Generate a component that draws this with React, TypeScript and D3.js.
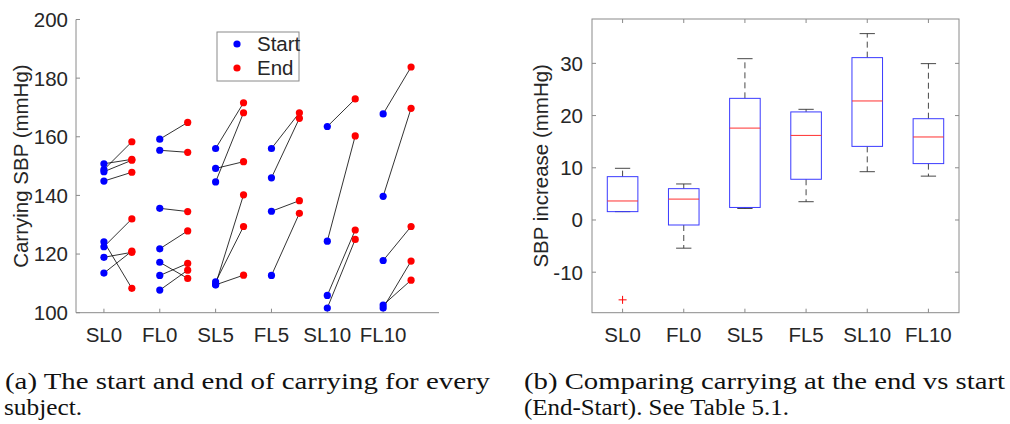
import React from "react";
import * as d3 from "d3";

const categories = ["SL0", "FL0", "SL5", "FL5", "SL10", "FL10"];

const startValues: number[][] = [
  [150.8, 148.8, 148.1, 144.9, 124.2, 122.5, 118.9, 113.5],
  [159.2, 155.4, 135.6, 121.8, 117.2, 112.7, 107.7],
  [156.0, 149.2, 144.6, 109.6, 110.5, 109.5],
  [156.0, 146.0, 134.6, 112.7],
  [163.5, 124.4, 105.9, 101.6],
  [167.8, 139.7, 117.8, 102.6, 101.6],
];
const endValues: number[][] = [
  [152.3, 158.3, 152.0, 147.9, 108.3, 132.0, 120.6, 121.0],
  [164.9, 154.7, 134.5, 127.9, 111.7, 116.8, 114.5],
  [171.6, 151.5, 168.2, 140.2, 129.4, 112.8],
  [168.2, 166.3, 138.2, 133.9],
  [172.9, 160.3, 128.2, 125.0],
  [183.8, 169.7, 129.4, 111.1, 117.6],
];

const leftTicks = [100, 120, 140, 160, 180, 200];
const rightTicks = [-10, 0, 10, 20, 30];

// box stats
const whiskerLow = [1.6, -5.4, 2.2, 3.5, 9.25, 8.4];
const q1 = [1.6, -0.96, 2.4, 7.8, 14.1, 10.8];
const medians = [3.64, 4.0, 17.6, 16.2, 22.8, 15.9];
const q3 = [8.3, 6.0, 23.3, 20.7, 31.1, 19.4];
const whiskerHigh = [9.9, 6.9, 30.9, 21.2, 35.7, 29.95];
const outliers: number[][] = [[-15.3], [], [], [], [], []];

const AX = "#8a8a8a";
const TXT = "#262626";
const FONT = "'Liberation Sans', Arial, sans-serif";
const SERIF = "'Liberation Serif', serif";

export default function App() {
  const xL = d3.scaleLinear().domain([0.5, 7]).range([76, 439]);
  const yL = d3.scaleLinear().domain([100, 200]).range([312.7, 19.5]);
  const xR = d3.scaleLinear().domain([0.5, 6.5]).range([592, 959]);
  const yR = d3.scaleLinear().domain([-17.76, 38.5]).range([312.7, 19]);

  const fs = 20.5;
  const tickLen = 4;
  const sans = { fontFamily: FONT };

  return (
    <svg
      width={1010}
      height={424}
      style={{ position: "absolute", left: 0, top: 0, background: "#fff", fontFamily: FONT }}
    >
      <rect x={0} y={0} width={1010} height={424} fill="#fff" />

      {/* ---------- Left chart ---------- */}
      <g style={sans}>
        <line x1={xL(0.5)} x2={xL(0.5)} y1={yL(100)} y2={yL(200)} stroke={AX} strokeWidth={1} />
        <line x1={xL(0.5)} x2={xL(7)} y1={yL(100)} y2={yL(100)} stroke={AX} strokeWidth={1} />
        {leftTicks.map((t) => (
          <g key={"lt" + t}>
            <line x1={xL(0.5)} x2={xL(0.5) + tickLen} y1={yL(t)} y2={yL(t)} stroke={AX} />
            <text x={68} y={yL(t)} dy="0.36em" textAnchor="end" fontSize={fs} fill={TXT}>
              {t}
            </text>
          </g>
        ))}
        {categories.map((c, i) => (
          <g key={"lx" + c}>
            <line x1={xL(i + 1)} x2={xL(i + 1)} y1={yL(100)} y2={yL(100) - tickLen} stroke={AX} />
            <text x={xL(i + 1)} y={341.5} textAnchor="middle" fontSize={fs} fill={TXT}>
              {c}
            </text>
          </g>
        ))}
        <text
          transform={`translate(28,${(yL(100) + yL(200)) / 2}) rotate(-90)`}
          textAnchor="middle"
          fontSize={fs}
          fill={TXT}
        >
          Carrying SBP (mmHg)
        </text>

        {categories.map((c, i) =>
          startValues[i].map((s, j) => (
            <line
              key={`ln${i}-${j}`}
              x1={xL(i + 1)}
              y1={yL(s)}
              x2={xL(i + 1.5)}
              y2={yL(endValues[i][j])}
              stroke="#000"
              strokeWidth={0.8}
            />
          ))
        )}
        {categories.map((c, i) =>
          startValues[i].map((s, j) => (
            <circle key={`s${i}-${j}`} cx={xL(i + 1)} cy={yL(s)} r={3.6} fill="#0000ff" />
          ))
        )}
        {categories.map((c, i) =>
          endValues[i].map((e, j) => (
            <circle key={`e${i}-${j}`} cx={xL(i + 1.5)} cy={yL(e)} r={3.6} fill="#ff0000" />
          ))
        )}

        <rect x={217} y={32} width={82} height={49} fill="#fff" stroke={AX} strokeWidth={1} />
        <circle cx={237} cy={44} r={3.6} fill="#0000ff" />
        <circle cx={237} cy={68} r={3.6} fill="#ff0000" />
        <text x={257} y={44} dy="0.36em" fontSize={fs} fill={TXT}>
          Start
        </text>
        <text x={257} y={68} dy="0.36em" fontSize={fs} fill={TXT}>
          End
        </text>
      </g>

      {/* ---------- Right chart ---------- */}
      <g style={sans}>
        <rect
          x={xR(0.5)}
          y={yR(38.5)}
          width={xR(6.5) - xR(0.5)}
          height={yR(-17.76) - yR(38.5)}
          fill="none"
          stroke={AX}
          strokeWidth={1}
        />
        {rightTicks.map((t) => (
          <g key={"rt" + t}>
            <line x1={xR(0.5)} x2={xR(0.5) + tickLen} y1={yR(t)} y2={yR(t)} stroke={AX} />
            <line x1={xR(6.5)} x2={xR(6.5) - tickLen} y1={yR(t)} y2={yR(t)} stroke={AX} />
            <text x={583} y={yR(t)} dy="0.36em" textAnchor="end" fontSize={fs} fill={TXT}>
              {t}
            </text>
          </g>
        ))}
        {categories.map((c, i) => (
          <g key={"rx" + c}>
            <line x1={xR(i + 1)} x2={xR(i + 1)} y1={yR(-17.76)} y2={yR(-17.76) - tickLen} stroke={AX} />
            <line x1={xR(i + 1)} x2={xR(i + 1)} y1={yR(38.5)} y2={yR(38.5) + tickLen} stroke={AX} />
            <text x={xR(i + 1)} y={341.5} textAnchor="middle" fontSize={fs} fill={TXT}>
              {c}
            </text>
          </g>
        ))}
        <text
          transform={`translate(548,${(yR(-17.76) + yR(38.5)) / 2}) rotate(-90)`}
          textAnchor="middle"
          fontSize={fs}
          fill={TXT}
        >
          SBP increase (mmHg)
        </text>

        {categories.map((c, i) => {
          const cx = xR(i + 1);
          const hw = xR(1.25) - xR(1);
          const cw = xR(1.125) - xR(1);
          return (
            <g key={"box" + c}>
              <line x1={cx} x2={cx} y1={yR(q3[i])} y2={yR(whiskerHigh[i])} stroke="#333" strokeWidth={0.9} strokeDasharray="6,4" />
              <line x1={cx} x2={cx} y1={yR(q1[i])} y2={yR(whiskerLow[i])} stroke="#333" strokeWidth={0.9} strokeDasharray="6,4" />
              <line x1={cx - cw} x2={cx + cw} y1={yR(whiskerHigh[i])} y2={yR(whiskerHigh[i])} stroke="#333" strokeWidth={0.9} />
              <line x1={cx - cw} x2={cx + cw} y1={yR(whiskerLow[i])} y2={yR(whiskerLow[i])} stroke="#333" strokeWidth={0.9} />
              <rect
                x={cx - hw}
                y={yR(q3[i])}
                width={2 * hw}
                height={yR(q1[i]) - yR(q3[i])}
                fill="none"
                stroke="#3a3aff"
                strokeWidth={1}
              />
              <line x1={cx - hw} x2={cx + hw} y1={yR(medians[i])} y2={yR(medians[i])} stroke="#ff3030" strokeWidth={1} />
              {outliers[i].map((o, k) => (
                <g key={"o" + k} stroke="#ff0000" strokeWidth={1}>
                  <line x1={cx - 4} x2={cx + 4} y1={yR(o)} y2={yR(o)} />
                  <line x1={cx} x2={cx} y1={yR(o) - 4} y2={yR(o) + 4} />
                </g>
              ))}
            </g>
          );
        })}
      </g>

      {/* ---------- Captions ---------- */}
      <g style={{ fontFamily: SERIF }} fontSize={24} fill="#111">
        <text x={5} y={389} textLength={485} lengthAdjust="spacingAndGlyphs">
          (a) The start and end of carrying for every
        </text>
        <text x={4} y={415} textLength={78} lengthAdjust="spacingAndGlyphs">subject.</text>
        <text x={524} y={389} textLength={481} lengthAdjust="spacingAndGlyphs">
          (b) Comparing carrying at the end vs start
        </text>
        <text x={524} y={415} textLength={265} lengthAdjust="spacingAndGlyphs">
          (End-Start). See Table 5.1.
        </text>
      </g>
    </svg>
  );
}
